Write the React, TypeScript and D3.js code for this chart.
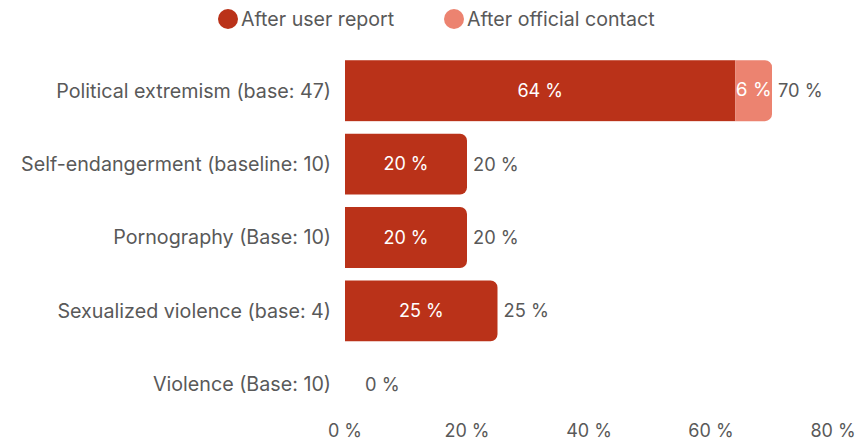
import React from "react";
import * as d3 from "d3";

const categories = [
  "Political extremism (base: 47)",
  "Self-endangerment (baseline: 10)",
  "Pornography (Base: 10)",
  "Sexualized violence (base: 4)",
  "Violence (Base: 10)",
];
const afterUserReport = [64, 20, 20, 25, 0];
const afterOfficialContact = [6, 0, 0, 0, 0];
const totals = [70, 20, 20, 25, 0];
const seriesNames = ["After user report", "After official contact"];
const xTicks = [0, 20, 40, 60, 80];

const W = 861;
const H = 445;
const DARK = "#BA3219";
const LIGHT = "#EC8370";
const GREY = "#595959";
const FONT = "Inter, 'Open Sans', sans-serif";

function rightRoundedRect(x: number, y: number, w: number, h: number, r: number) {
  const rr = Math.min(r, w, h / 2);
  return `M${x},${y}H${x + w - rr}A${rr},${rr} 0 0 1 ${x + w},${y + rr}V${y + h - rr}A${rr},${rr} 0 0 1 ${x + w - rr},${y + h}H${x}Z`;
}

export default function App() {
  const x = d3.scaleLinear().domain([0, 80]).range([345, 833]);
  const y = d3
    .scaleBand<string>()
    .domain(categories)
    .range([54, 421])
    .paddingInner(0.17)
    .paddingOuter(0.085);
  const bh = y.bandwidth();

  return (
    <svg
      width={W}
      height={H}
      style={{ position: "absolute", left: 0, top: 0, fontFamily: FONT }}
    >
      <rect width={W} height={H} fill="#fff" />
      {/* legend */}
      <g fontSize={19.6} fill={GREY}>
        <circle cx={228} cy={19} r={10} fill={DARK} />
        <text x={241} y={25.5}>{seriesNames[0]}</text>
        <circle cx={454} cy={19} r={10} fill={LIGHT} />
        <text x={467} y={25.5}>{seriesNames[1]}</text>
      </g>
      {categories.map((c, i) => {
        const y0 = y(c)!;
        const cy = y0 + bh / 2;
        const a = afterUserReport[i];
        const b = afterOfficialContact[i];
        const xa = x(a) - x(0);
        const xb = x(a + b) - x(a);
        return (
          <g key={c}>
            <text
              x={331}
              y={cy}
              dy="0.35em"
              textAnchor="end"
              fontSize={19.7}
              fill={GREY}
            >
              {c}
            </text>
            {a > 0 && (
              b > 0 ? (
                <rect x={x(0)} y={y0} width={xa} height={bh} fill={DARK} />
              ) : (
                <path d={rightRoundedRect(x(0), y0, xa, bh, 7)} fill={DARK} />
              )
            )}
            {b > 0 && (
              <path d={rightRoundedRect(x(a), y0, xb, bh, 7)} fill={LIGHT} />
            )}
            {a > 0 && (
              <text
                x={x(0) + xa / 2}
                y={cy}
                dy="0.35em"
                textAnchor="middle"
                fontSize={18}
                fill="#fff"
              >
                {a} %
              </text>
            )}
            {b > 0 && (
              <text
                x={x(a) + xb / 2}
                y={cy}
                dy="0.3em"
                textAnchor="middle"
                fontSize={19}
                fill="#fff"
              >
                {b} %
              </text>
            )}
            <text
              x={x(totals[i]) + (totals[i] > 0 ? 6 : 20)}
              y={cy}
              dy="0.35em"
              fontSize={18.3}
              fill={GREY}
            >
              {totals[i]} %
            </text>
          </g>
        );
      })}
      {xTicks.map((t) => (
        <text
          key={t}
          x={x(t)}
          y={437}
          textAnchor="middle"
          fontSize={18}
          fill={GREY}
        >
          {t} %
        </text>
      ))}
    </svg>
  );
}
